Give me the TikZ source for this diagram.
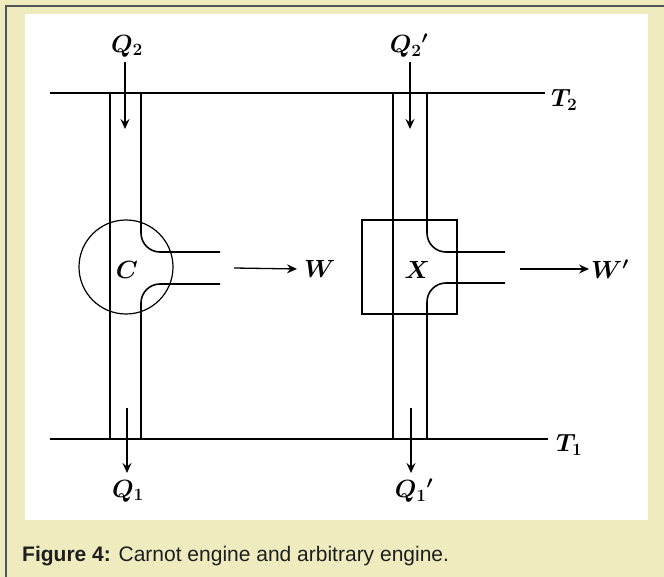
\documentclass[tikz,border=0pt]{standalone}
\usepackage{fontspec}
\setsansfont{Liberation Sans}
\usetikzlibrary{arrows.meta, positioning}
\definecolor{figbg}{RGB}{238,236,190}
\definecolor{framegray}{RGB}{85,85,85}
\definecolor{captext}{RGB}{30,30,30}

\begin{document}
\begin{tikzpicture}[x=1pt, y=-1pt,
    wall/.style={line width=1.6pt, black},
    rim/.style={line width=1.2pt, black},
    heat/.style={line width=1.3pt, -{Stealth[length=10pt, width=9pt, inset=3.5pt]}},
    lbl/.style={font=\fontsize{23}{27}\selectfont\boldmath, inner sep=1pt},
    caption/.style={font=\sffamily\fontsize{21}{25}\selectfont, text=captext, inner sep=0pt}
  ]
  % panel and frame
  \useasboundingbox (0,0) rectangle (664,577);
  \fill[figbg] (0,0) rectangle (664,577);
  \draw[framegray, line width=1.5pt] (6,577) -- (6,6) -- (664,6);
  \fill[white] (25,14) rectangle (648,520);

  % engines
  \node (C) [circle, draw, rim, minimum size=94pt] at (126,267) {};
  \node (clab) [lbl] at (127,270) {$C$};
  \node (X) [rectangle, draw, rim, minimum width=95pt, minimum height=94pt] at (409.5,267) {};
  \node (xlab) [lbl] at (417,270) {$X$};

  % reservoirs
  \node (T2) [lbl, anchor=west] at (550,100) {$T_2$};
  \node (T1) [lbl, anchor=west] at (555,445) {$T_1$};
  \coordinate (t2start) at (50,93);
  \coordinate (t1start) at (50,439);
  \draw[wall] (t2start) -- (545,93);
  \draw[wall] (t1start) -- (548,439);

  % Carnot channel
  \draw[wall] (110,93) -- (110,439);
  \draw[wall, rounded corners=19pt] (141,93) -- (141,252) -- (220,252);
  \draw[wall, rounded corners=19pt] (220,284) -- (141,284) -- (141,439);

  % arbitrary channel
  \draw[wall] (393,93) -- (393,439);
  \draw[wall, rounded corners=19pt] (427,93) -- (427,252) -- (505,252);
  \draw[wall, rounded corners=19pt] (505,283) -- (427,283) -- (427,439);

  % heat flows
  \node (Q2) [lbl] at (127,46) {$Q_2$};
  \node (Q2p) [lbl] at (409,46) {$Q_2{}'$};
  \node (Q1) [lbl] at (128,491) {$Q_1$};
  \node (Q1p) [lbl] at (414,491) {$Q_1{}'$};
  \coordinate (q2start) at (125,62);
  \coordinate (q2end) at (125,129);
  \coordinate (q2pstart) at (410,62);
  \coordinate (q2pend) at (410,129);
  \coordinate (q1start) at (127,408);
  \coordinate (q1end) at (127,473);
  \coordinate (q1pstart) at (411,408);
  \coordinate (q1pend) at (411,473);
  \draw[heat] (q2start) -- (q2end);
  \draw[heat] (q2pstart) -- (q2pend);
  \draw[heat] (q1start) -- (q1end);
  \draw[heat] (q1pstart) -- (q1pend);

  % work
  \node (W) [lbl, anchor=west] at (303,269) {$W$};
  \node (Wp) [lbl, anchor=west] at (590,269) {$W'$};
  \coordinate (wstart) at (234,268);
  \coordinate (wpstart) at (520,269);
  \draw[heat] (wstart) -- ([xshift=-6pt]W.west);
  \draw[heat] (wpstart) -- ([xshift=-1pt]Wp.west);

  % caption
  \node (cap) [caption, anchor=base west] at (22,561) {\textbf{Figure 4:} Carnot engine and arbitrary engine.};
\end{tikzpicture}
\end{document}
